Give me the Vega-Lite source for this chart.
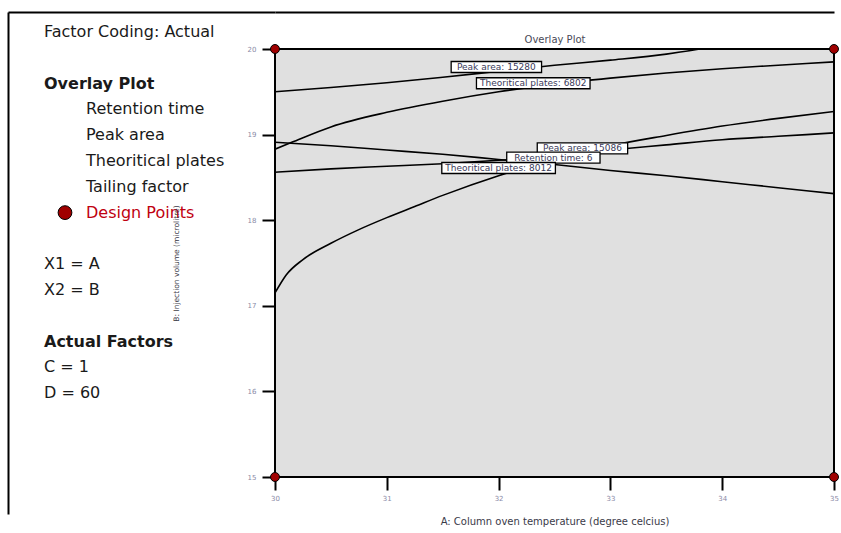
{
  "$schema": "https://vega.github.io/schema/vega-lite/v6.json",
  "padding": {"left": 8, "top": 11, "right": 0, "bottom": 0},
  "autosize": {"type": "pad"},
  "background": "white",
  "config": {"view": {"stroke": null}, "font": "DejaVu Sans", "axis": {"grid": false}},
  "datasets": {
    "legend": [
      {"text": "Factor Coding: Actual", "line": 0, "level": 0, "kind": "info"},
      {"text": "Overlay Plot", "line": 2, "level": 0, "kind": "heading"},
      {"text": "Retention time", "line": 3, "level": 1, "kind": "response"},
      {"text": "Peak area", "line": 4, "level": 1, "kind": "response"},
      {"text": "Theoritical plates", "line": 5, "level": 1, "kind": "response"},
      {"text": "Tailing factor", "line": 6, "level": 1, "kind": "response"},
      {"text": "Design Points", "line": 7, "level": 1, "kind": "design"},
      {"text": "X1 = A", "line": 9, "level": 0, "kind": "info"},
      {"text": "X2 = B", "line": 10, "level": 0, "kind": "info"},
      {"text": "Actual Factors", "line": 12, "level": 0, "kind": "heading"},
      {"text": "C = 1", "line": 13, "level": 0, "kind": "info"},
      {"text": "D = 60", "line": 14, "level": 0, "kind": "info"}
    ],
    "curves": [
      {"contour": "Peak area 15280", "x": 30, "y": 19.5},
      {"contour": "Peak area 15280", "x": 30.5, "y": 19.55},
      {"contour": "Peak area 15280", "x": 31, "y": 19.605},
      {"contour": "Peak area 15280", "x": 31.5, "y": 19.67},
      {"contour": "Peak area 15280", "x": 32, "y": 19.74},
      {"contour": "Peak area 15280", "x": 32.5, "y": 19.81},
      {"contour": "Peak area 15280", "x": 33, "y": 19.87},
      {"contour": "Peak area 15280", "x": 33.5, "y": 19.94},
      {"contour": "Peak area 15280", "x": 33.8, "y": 20.0},
      {"contour": "Theoritical plates 6802", "x": 30, "y": 18.83},
      {"contour": "Theoritical plates 6802", "x": 30.15, "y": 18.91},
      {"contour": "Theoritical plates 6802", "x": 30.5, "y": 19.09},
      {"contour": "Theoritical plates 6802", "x": 31, "y": 19.26},
      {"contour": "Theoritical plates 6802", "x": 31.5, "y": 19.39},
      {"contour": "Theoritical plates 6802", "x": 32, "y": 19.5},
      {"contour": "Theoritical plates 6802", "x": 32.5, "y": 19.59},
      {"contour": "Theoritical plates 6802", "x": 33, "y": 19.66},
      {"contour": "Theoritical plates 6802", "x": 33.5, "y": 19.72},
      {"contour": "Theoritical plates 6802", "x": 34, "y": 19.77},
      {"contour": "Theoritical plates 6802", "x": 34.5, "y": 19.81},
      {"contour": "Theoritical plates 6802", "x": 35, "y": 19.85},
      {"contour": "Retention time 6", "x": 30, "y": 18.91},
      {"contour": "Retention time 6", "x": 30.5, "y": 18.87},
      {"contour": "Retention time 6", "x": 31, "y": 18.82},
      {"contour": "Retention time 6", "x": 31.5, "y": 18.77},
      {"contour": "Retention time 6", "x": 32, "y": 18.71},
      {"contour": "Retention time 6", "x": 32.5, "y": 18.65},
      {"contour": "Retention time 6", "x": 33, "y": 18.58},
      {"contour": "Retention time 6", "x": 33.5, "y": 18.52},
      {"contour": "Retention time 6", "x": 34, "y": 18.45},
      {"contour": "Retention time 6", "x": 34.5, "y": 18.38},
      {"contour": "Retention time 6", "x": 35, "y": 18.31},
      {"contour": "Peak area 15086", "x": 30, "y": 18.56},
      {"contour": "Peak area 15086", "x": 30.5, "y": 18.6},
      {"contour": "Peak area 15086", "x": 31, "y": 18.63},
      {"contour": "Peak area 15086", "x": 31.5, "y": 18.66},
      {"contour": "Peak area 15086", "x": 32, "y": 18.7},
      {"contour": "Peak area 15086", "x": 32.5, "y": 18.75},
      {"contour": "Peak area 15086", "x": 33, "y": 18.82},
      {"contour": "Peak area 15086", "x": 33.5, "y": 18.88},
      {"contour": "Peak area 15086", "x": 34, "y": 18.94},
      {"contour": "Peak area 15086", "x": 34.5, "y": 18.98},
      {"contour": "Peak area 15086", "x": 35, "y": 19.02},
      {"contour": "Theoritical plates 8012", "x": 30, "y": 17.15},
      {"contour": "Theoritical plates 8012", "x": 30.1, "y": 17.36},
      {"contour": "Theoritical plates 8012", "x": 30.25, "y": 17.54},
      {"contour": "Theoritical plates 8012", "x": 30.5, "y": 17.73},
      {"contour": "Theoritical plates 8012", "x": 30.75, "y": 17.89},
      {"contour": "Theoritical plates 8012", "x": 31, "y": 18.03},
      {"contour": "Theoritical plates 8012", "x": 31.25, "y": 18.16},
      {"contour": "Theoritical plates 8012", "x": 31.5, "y": 18.29},
      {"contour": "Theoritical plates 8012", "x": 32, "y": 18.52},
      {"contour": "Theoritical plates 8012", "x": 32.5, "y": 18.71},
      {"contour": "Theoritical plates 8012", "x": 33, "y": 18.87},
      {"contour": "Theoritical plates 8012", "x": 33.5, "y": 18.99},
      {"contour": "Theoritical plates 8012", "x": 34, "y": 19.1},
      {"contour": "Theoritical plates 8012", "x": 34.5, "y": 19.19},
      {"contour": "Theoritical plates 8012", "x": 35, "y": 19.27}
    ],
    "labels": [
      {"label": "Peak area: 15280", "x": 31.98, "y": 19.79},
      {"label": "Theoritical plates: 6802", "x": 32.31, "y": 19.6},
      {"label": "Peak area: 15086", "x": 32.75, "y": 18.84},
      {"label": "Retention time: 6", "x": 32.49, "y": 18.73},
      {"label": "Theoritical plates: 8012", "x": 32.0, "y": 18.61}
    ],
    "points": [
      {"x": 30, "y": 15},
      {"x": 30, "y": 20},
      {"x": 35, "y": 15},
      {"x": 35, "y": 20}
    ]
  },
  "hconcat": [
    {
      "width": 267,
      "height": 502,
      "data": {"name": "legend"},
      "layer": [
        {
          "mark": {
            "type": "text",
            "align": "left",
            "baseline": "middle",
            "font": "DejaVu Sans",
            "fontSize": 16,
            "fontWeight": {"expr": "datum.kind == 'heading' ? 'bold' : 'normal'"}
          },
          "encoding": {
            "x": {
              "field": "level",
              "type": "quantitative",
              "scale": {"domain": [-0.857, 5.5], "nice": false, "zero": false},
              "axis": {"orient": "top", "domain": true, "domainColor": "black", "domainWidth": 2, "ticks": false, "labels": false, "title": null, "grid": false}
            },
            "y": {
              "field": "line",
              "type": "quantitative",
              "scale": {"domain": [-0.775, 18.68], "reverse": true, "nice": false, "zero": false},
              "axis": {"orient": "left", "domain": true, "domainColor": "black", "domainWidth": 2, "ticks": false, "labels": false, "title": null, "grid": false}
            },
            "text": {"field": "text"},
            "color": {
              "field": "kind",
              "type": "nominal",
              "scale": {"domain": ["info", "heading", "response", "design"], "range": ["#1a1a1a", "#1a1a1a", "#1a1a1a", "#c00010"]},
              "legend": null
            }
          }
        },
        {
          "transform": [{"filter": "datum.kind == 'design'"}],
          "mark": {"type": "point", "shape": "circle", "filled": true, "size": 190, "color": "#a00000", "fill": "#a00000", "stroke": "black", "strokeWidth": 1, "opacity": 1},
          "encoding": {
            "x": {"datum": 0.5, "type": "quantitative"},
            "y": {"field": "line", "type": "quantitative"}
          }
        }
      ]
    },
    {
      "width": 559,
      "height": 428,
      "view": {"fill": "#e0e0e0", "stroke": "black", "strokeWidth": 2},
      "resolve": {"axis": {"x": "independent"}},
      "layer": [
        {
          "data": {"name": "curves"},
          "mark": {"type": "line", "color": "black", "strokeWidth": 1.6, "clip": true, "interpolate": "monotone"},
          "encoding": {
            "x": {
              "field": "x",
              "type": "quantitative",
              "scale": {"domain": [30, 35], "nice": false, "zero": false},
              "axis": {
                "orient": "bottom",
                "values": [30, 31, 32, 33, 34, 35],
                "format": "d",
                "domain": false,
                "ticks": true,
                "tickSize": 13,
                "tickWidth": 2,
                "tickColor": "black",
                "labelFont": "DejaVu Sans",
                "labelFontSize": 7,
                "labelColor": "#8a8aa6",
                "labelPadding": 4,
                "labelFlush": false,
                "title": "A: Column oven temperature (degree celcius)",
                "titleFont": "DejaVu Sans",
                "titleFontSize": 10,
                "titleFontWeight": "normal",
                "titleColor": "#3a3a48",
                "titlePadding": 15,
                "grid": false
              }
            },
            "y": {
              "field": "y",
              "type": "quantitative",
              "scale": {"domain": [15, 20], "nice": false, "zero": false},
              "axis": {
                "orient": "left",
                "values": [15, 16, 17, 18, 19, 20],
                "format": "d",
                "domain": false,
                "ticks": true,
                "tickSize": 13,
                "tickWidth": 2,
                "tickColor": "black",
                "labelFont": "DejaVu Sans",
                "labelFontSize": 7,
                "labelColor": "#8a8aa6",
                "labelPadding": 6,
                "labelFlush": false,
                "title": "B: Injection volume (microlitre)",
                "titleFont": "DejaVu Sans",
                "titleFontSize": 7.5,
                "titleFontWeight": "normal",
                "titleColor": "#3a3a48",
                "titlePadding": 67,
                "grid": false
              }
            },
            "detail": {"field": "contour"}
          }
        },
        {
          "data": {"name": "labels"},
          "mark": {"type": "rect", "width": {"expr": "length(datum.label) * 2.9 + 44"}, "height": 11, "fill": "white", "stroke": "black", "strokeWidth": 1.3},
          "encoding": {
            "x": {
              "field": "x",
              "type": "quantitative",
              "axis": {"orient": "top", "domain": false, "ticks": false, "labels": false, "title": "Overlay Plot", "titleFont": "DejaVu Sans", "titleFontSize": 10, "titleFontWeight": "normal", "titleColor": "#4a4a58", "titlePadding": 5, "grid": false}
            },
            "y": {"field": "y", "type": "quantitative"}
          }
        },
        {
          "data": {"name": "labels"},
          "mark": {"type": "text", "font": "DejaVu Sans", "fontSize": 9, "color": "#3a3a5a", "align": "center", "baseline": "middle"},
          "encoding": {
            "x": {"field": "x", "type": "quantitative", "axis": null},
            "y": {"field": "y", "type": "quantitative"},
            "text": {"field": "label"}
          }
        },
        {
          "data": {"name": "points"},
          "mark": {"type": "point", "shape": "circle", "filled": true, "size": 80, "color": "#a00000", "fill": "#a00000", "stroke": "black", "strokeWidth": 1, "opacity": 1, "clip": false},
          "encoding": {
            "x": {
              "field": "x",
              "type": "quantitative",
              "axis": {"orient": "top", "offset": 37, "domain": true, "domainColor": "black", "domainWidth": 2, "ticks": false, "labels": false, "title": null, "grid": false}
            },
            "y": {"field": "y", "type": "quantitative"}
          }
        }
      ]
    }
  ],
  "spacing": 0,
  "bounds": "flush",
  "center": true
}
